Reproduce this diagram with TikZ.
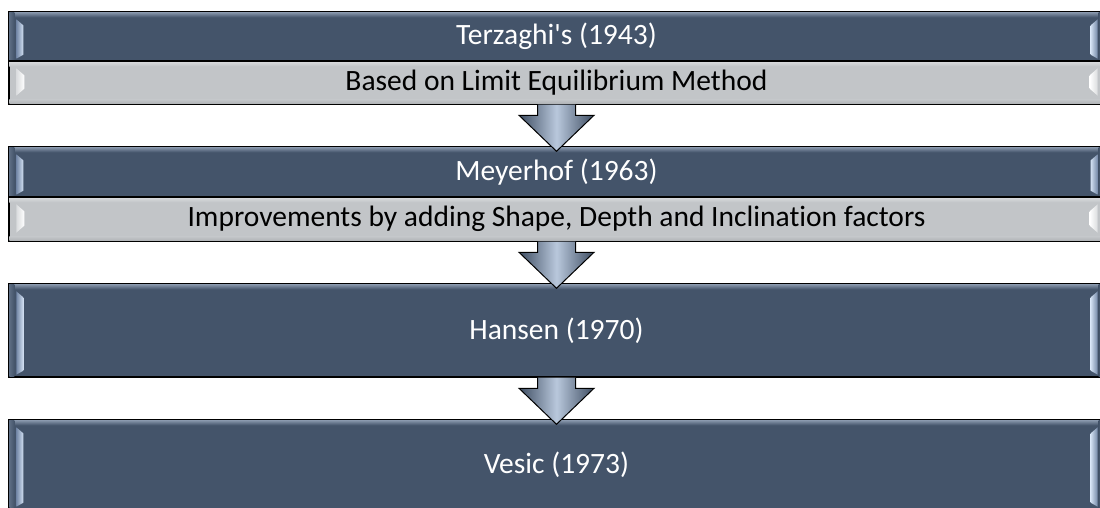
\documentclass[tikz,border=0pt]{standalone}
\usepackage{fontspec}
\setmainfont{Carlito}[Ligatures={TeX,NoCommon}]
\usetikzlibrary{calc}
\definecolor{dk}{HTML}{44546A}
\definecolor{dkhi}{HTML}{8796AB}
\definecolor{dkedge}{HTML}{5E6E84}
\definecolor{stripeA}{HTML}{7387A6}
\definecolor{stripeB}{HTML}{D2E0F2}
\definecolor{lt}{HTML}{C2C5C8}
\definecolor{lthi}{HTML}{DADCDE}
\definecolor{ltlo}{HTML}{B0B3B6}
\definecolor{arrdk}{HTML}{3E4D62}
\definecolor{arrhi}{HTML}{B9C8DC}
\tikzset{
  darkbox/.style={draw=black, line width=1.4pt, fill=dk, text=white, inner sep=0pt,
    minimum width=1095pt, font=\fontsize{29.5}{34}\selectfont},
  lightbox/.style={draw=black, line width=1.4pt, fill=lt, text=black, inner sep=0pt,
    minimum width=1095pt, font=\fontsize{29.5}{34}\selectfont},
  blockarrow/.style={draw=black, line width=1pt, line join=miter,
    left color=arrdk, right color=arrdk, middle color=arrhi},
}
\newcommand\darkbevel[1]{%
  \shade[top color=dkhi, bottom color=dk] ($(#1.north west)+(1,1)$) rectangle ($(#1.north east)+(-1,6)$);
  \shade[left color=dkedge, right color=dk] ($(#1.north west)+(1,1)$) rectangle ($(#1.south west)+(6,-1)$);
  \shade[left color=dk, right color=dkedge] ($(#1.north east)+(-6,1)$) rectangle ($(#1.south east)+(-1,-1)$);
  \shade[left color=stripeA, right color=stripeB] ($(#1.north west)+(8,8)$) -- ($(#1.north west)+(15,14)$) -- ($(#1.south west)+(15,-7)$) -- ($(#1.south west)+(8,-3)$) -- cycle;
  \shade[left color=stripeB, right color=stripeA] ($(#1.north east)+(-14,14)$) -- ($(#1.north east)+(-7,8)$) -- ($(#1.south east)+(-7,-3)$) -- ($(#1.south east)+(-14,-7)$) -- cycle;
}
\newcommand\lightbevel[1]{%
  \shade[top color=lthi, bottom color=lt] ($(#1.north west)+(1,1)$) rectangle ($(#1.north east)+(-1,6)$);
  \shade[top color=lt, bottom color=ltlo] ($(#1.south west)+(1,-5)$) rectangle ($(#1.south east)+(-1,-1)$);
  \shade[left color=lthi, right color=white] ($(#1.north west)+(8,8)$) -- ($(#1.north west)+(16,15)$) -- ($(#1.south west)+(16,-16)$) -- ($(#1.south west)+(8,-9)$) -- cycle;
  \shade[left color=white, right color=lthi] ($(#1.north east)+(-15,15)$) -- ($(#1.north east)+(-7,8)$) -- ($(#1.south east)+(-7,-9)$) -- ($(#1.south east)+(-15,-16)$) -- cycle;
}
\newcommand\flowarrow[2]{%
  \draw[blockarrow] ($(#1.south)+(-19,0)$) -- ($(#2.north)+(-19,-31)$) -- ($(#2.north)+(-37.5,-31)$)
    -- ($(#2.north)+(0,5)$) -- ($(#2.north)+(37.5,-31)$) -- ($(#2.north)+(19,-31)$) -- ($(#1.south)+(19,0)$);
}
\begin{document}
\begin{tikzpicture}[x=1pt,y=-1pt]
\useasboundingbox (0,0) rectangle (1100,508);
\fill[white] (0,0) rectangle (1100,508);
% boxes
\node[darkbox, minimum height=49pt] (t) at (556.5,36.5) {Terzaghi\textquotesingle s (1943)};
\node[lightbox, minimum height=43pt] (ts) at (556.5,82.5) {Based on Limit Equilibrium Method};
\node[darkbox, minimum height=50pt] (m) at (556.5,172) {Meyerhof (1963)};
\node[lightbox, minimum height=44pt] (ms) at (556.5,219) {Improvements by adding Shape, Depth and Inclination factors};
\node[darkbox, minimum height=93pt] (h) at (556.5,330.5) {Hansen (1970)};
\node[darkbox, minimum height=89pt] (v) at (556.5,464.5) {Vesic (1973)};
\darkbevel{t}\lightbevel{ts}
\darkbevel{m}\lightbevel{ms}
\darkbevel{h}\darkbevel{v}
% redraw borders over bevels
\foreach \n in {t,ts,m,ms,h,v}{\draw[line width=1.4pt] (\n.north west) rectangle (\n.south east);}
% arrows
\flowarrow{ts}{m}
\flowarrow{ms}{h}
\flowarrow{h}{v}
\end{tikzpicture}
\end{document}
